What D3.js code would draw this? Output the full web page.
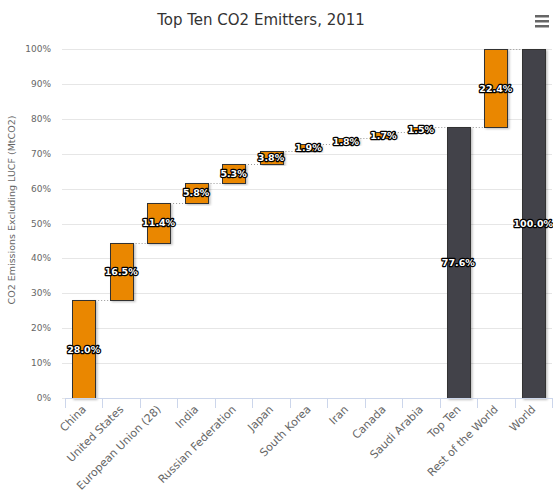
<!DOCTYPE html>
<html>
<head>
<meta charset="utf-8">
<script src="https://cdn.jsdelivr.net/npm/d3@7"></script>
<style>
  body { margin: 0; background: #fff; }
  text { font-family: "DejaVu Sans", Verdana, sans-serif; }
</style>
</head>
<body>
<div id="chart"></div>
<script>
// waterfall data, share of world CO2 (%)
const categories = ['China', 'United States', 'European Union (28)', 'India', 'Russian Federation',
  'Japan', 'South Korea', 'Iran', 'Canada', 'Saudi Arabia', 'Top Ten', 'Rest of the World', 'World'];
const values = [28.0, 16.5, 11.4, 5.8, 5.3, 3.8, 1.9, 1.8, 1.7, 1.5, 77.6, 22.4, 100.0];
const kinds = ['step', 'step', 'step', 'step', 'step', 'step', 'step', 'step', 'step', 'step',
  'subtotal', 'step', 'total'];
const yTicks = [0, 10, 20, 30, 40, 50, 60, 70, 80, 90, 100];

const width = 553, height = 493;
const margin = {top: 49, right: 1, bottom: 95, left: 65};

const svg = d3.select('#chart').append('svg')
    .attr('width', width)
    .attr('height', height);

const defs = svg.append('defs');
const f = defs.append('filter').attr('id', 'shadow')
    .attr('x', '-20%').attr('y', '-5%').attr('width', '150%').attr('height', '115%');
f.append('feDropShadow').attr('dx', 1.5).attr('dy', 1).attr('stdDeviation', 1)
    .attr('flood-color', '#000').attr('flood-opacity', 0.25);

// title
svg.append('text')
    .attr('x', 261)
    .attr('y', 25)
    .attr('text-anchor', 'middle')
    .style('font-size', '15px')
    .style('fill', '#333')
    .text('Top Ten CO2 Emitters, 2011');

// menu icon
[0, 5, 10].forEach(d => {
  svg.append('rect')
      .attr('x', 535).attr('y', 15 + d)
      .attr('width', 14).attr('height', 2.5)
      .attr('fill', '#666');
});

const x = d3.scaleBand()
    .domain(categories)
    .range([margin.left, width - margin.right])
    .paddingInner(0.39)
    .paddingOuter(0.195);

const y = d3.scaleLinear()
    .domain([0, 100])
    .range([height - margin.bottom, margin.top]);

// gridlines
svg.append('g')
    .selectAll('line')
    .data(yTicks)
    .enter()
    .append('line')
    .attr('x1', margin.left - 3)
    .attr('x2', width - margin.right)
    .attr('y1', d => Math.round(y(d)) + 0.5)
    .attr('y2', d => Math.round(y(d)) + 0.5)
    .attr('stroke', '#e6e6e6');

// y labels
svg.append('g')
    .selectAll('text')
    .data(yTicks)
    .enter()
    .append('text')
    .attr('x', 51)
    .attr('y', d => y(d) + 3)
    .attr('text-anchor', 'end')
    .style('font-size', '9px')
    .style('fill', '#666')
    .text(d => d + '%');

// y title
svg.append('text')
    .attr('transform', 'translate(15,210)rotate(-90)')
    .attr('text-anchor', 'middle')
    .style('font-size', '9.5px')
    .style('fill', '#666')
    .text('CO2 Emissions Excluding LUCF (MtCO2)');

// compute bar extents
let running = 0;
const bars = categories.map((c, i) => {
  let y0, y1;
  if (kinds[i] === 'step') {
    y0 = running;
    y1 = running + values[i];
    running = y1;
  } else {
    y0 = 0;
    y1 = values[i];
    running = y1;
  }
  return {name: c, value: values[i], kind: kinds[i], y0, y1, end: running};
});

// connectors
const step = x.step();
svg.append('g')
    .selectAll('line')
    .data(bars.slice(0, -1))
    .enter()
    .append('line')
    .attr('x1', d => x(d.name) + x.bandwidth())
    .attr('x2', (d, i) => x(bars[i + 1].name))
    .attr('y1', d => Math.round(y(d.end)) + 0.5)
    .attr('y2', d => Math.round(y(d.end)) + 0.5)
    .attr('stroke', '#999')
    .attr('stroke-dasharray', '1,2');

// bars
svg.append('g')
    .selectAll('rect')
    .data(bars)
    .enter()
    .append('rect')
    .attr('x', d => Math.round(x(d.name)) + 0.5)
    .attr('y', d => Math.round(y(d.y1)) + 0.5)
    .attr('width', Math.round(x.bandwidth()))
    .attr('height', d => Math.round(y(d.y0)) - Math.round(y(d.y1)))
    .attr('fill', d => d.kind === 'step' ? '#ea8700' : '#434348')
    .attr('stroke', '#333')
    .attr('stroke-width', 1)
    .attr('filter', 'url(#shadow)');

// x axis
const axisY = height - margin.bottom;
svg.append('line')
    .attr('x1', margin.left).attr('x2', width)
    .attr('y1', axisY + 0.5).attr('y2', axisY + 0.5)
    .attr('stroke', '#ccd6eb');

svg.append('g')
    .selectAll('line')
    .data(d3.range(categories.length + 1))
    .enter()
    .append('line')
    .attr('x1', i => Math.round(margin.left + i * step) + 0.5)
    .attr('x2', i => Math.round(margin.left + i * step) + 0.5)
    .attr('y1', axisY)
    .attr('y2', axisY + 10)
    .attr('stroke', '#ccd6eb');

svg.append('g')
    .selectAll('text')
    .data(categories)
    .enter()
    .append('text')
    .attr('transform', d => 'translate(' + (x(d) + x.bandwidth() / 2 + 3) + ',' + (axisY + 12) + ')rotate(-45)')
    .attr('text-anchor', 'end')
    .style('font-size', '11px')
    .style('fill', '#666')
    .text(d => d);

// data labels
svg.append('g')
    .selectAll('text')
    .data(bars)
    .enter()
    .append('text')
    .attr('x', d => x(d.name) + x.bandwidth() / 2)
    .attr('y', d => y((d.y0 + d.y1) / 2) + 3.5)
    .attr('text-anchor', 'middle')
    .style('font-size', '9.5px')
    .style('font-weight', 'bold')
    .style('fill', '#fff')
    .style('stroke', '#000')
    .style('stroke-width', '2.5px')
    .style('stroke-linejoin', 'round')
    .style('paint-order', 'stroke')
    .text(d => d3.format('.1f')(d.value) + '%');
</script>
</body>
</html>
